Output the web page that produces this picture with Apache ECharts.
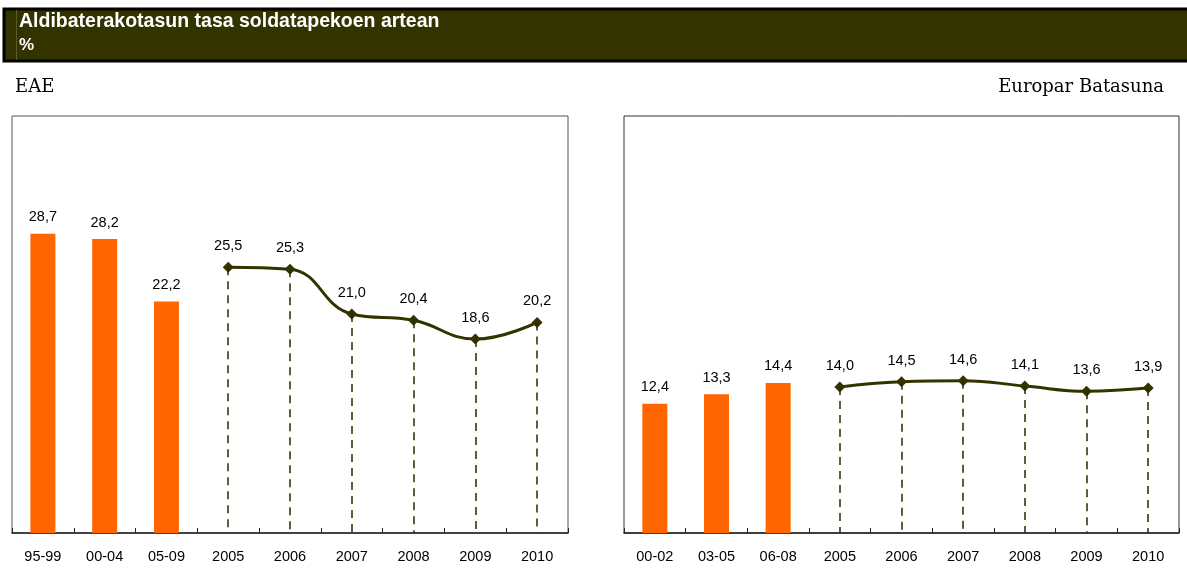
<!DOCTYPE html>
<html>
<head>
<meta charset="utf-8">
<script src="https://cdn.jsdelivr.net/npm/echarts@6/dist/echarts.min.js"></script>
<style>
  html, body { margin: 0; padding: 0; background: #fff; }
  #chart { width: 1187px; height: 586px; }
</style>
</head>
<body>
<div id="chart"></div>
<script>
var eaeCats = ['95-99', '00-04', '05-09', '2005', '2006', '2007', '2008', '2009', '2010'];
var eaeBars = [28.7, 28.2, 22.2];
var eaeLine = [25.5, 25.3, 21.0, 20.4, 18.6, 20.2];

var ueCats = ['00-02', '03-05', '06-08', '2005', '2006', '2007', '2008', '2009', '2010'];
var ueBars = [12.4, 13.3, 14.4];
var ueLine = [14.0, 14.5, 14.6, 14.1, 13.6, 13.9];

var olive = '#333300';
var orange = '#ff6600';

function fmt(p) {
	return p.value == null ? '' : p.value.toFixed(1).replace('.', ',');
}

// barras al principio, linea despues
function barData(bars, n) {
	var d = bars.slice();
	while (d.length < n) d.push(null);
	return d;
}
function lineData(line, n) {
	var d = [];
	while (d.length + line.length < n) d.push(null);
	return d.concat(line);
}
// lineas verticales discontinuas desde cada punto
function dropLines(cats, line) {
	var off = cats.length - line.length;
	return line.map(function(v, i) {
		return [{ coord: [cats[off + i], v] }, { coord: [cats[off + i], 0] }];
	});
}

function makeSeries(cats, bars, line, idx) {
	return [{
		type: 'bar',
		xAxisIndex: idx,
		yAxisIndex: idx,
		data: barData(bars, cats.length),
		barWidth: 25,
		itemStyle: { color: orange },
		label: { show: true, position: 'top', distance: 9, formatter: fmt,
			fontFamily: 'Liberation Sans, Arial', fontSize: 14.5, color: '#000' },
		silent: true
	}, {
		type: 'line',
		xAxisIndex: idx,
		yAxisIndex: idx,
		data: lineData(line, cats.length),
		smooth: 0.45,
		symbol: 'diamond',
		symbolSize: 11,
		lineStyle: { color: olive, width: 3 },
		itemStyle: { color: olive },
		label: { show: true, position: 'top', distance: 8, formatter: fmt,
			fontFamily: 'Liberation Sans, Arial', fontSize: 14.5, color: '#000' },
		markLine: {
			silent: true,
			symbol: 'none',
			label: { show: false },
			lineStyle: { color: '#2a2a00', width: 1.5, type: [8, 6] },
			data: dropLines(cats, line)
		},
		z: 3
	}];
}

function xAxis(cats, idx) {
	return {
		type: 'category',
		gridIndex: idx,
		data: cats,
		axisLine: { lineStyle: { color: '#222', width: 1.5 } },
		axisTick: { show: true, inside: true, length: 5, lineStyle: { color: '#222' } },
		axisLabel: { margin: 16, fontFamily: 'Liberation Sans, Arial', fontSize: 14.5, color: '#000' }
	};
}
function yAxis(idx) {
	return {
		type: 'value',
		gridIndex: idx,
		min: 0,
		max: 40,
		show: false,
		splitLine: { show: false }
	};
}

var myChart = echarts.init(document.getElementById('chart'));
var option = {
	animation: false,
	grid: [
		{ left: 12, top: 116, width: 556, height: 417, show: true, borderColor: '#555', borderWidth: 1, backgroundColor: '#fff' },
		{ left: 624, top: 116, width: 555, height: 417, show: true, borderColor: '#333', borderWidth: 1, backgroundColor: '#fff' }
	],
	xAxis: [xAxis(eaeCats, 0), xAxis(ueCats, 1)],
	yAxis: [yAxis(0), yAxis(1)],
	series: makeSeries(eaeCats, eaeBars, eaeLine, 0).concat(makeSeries(ueCats, ueBars, ueLine, 1)),
	graphic: [
		{ type: 'rect', shape: { x: 4, y: 9, width: 1190, height: 52 },
			style: { fill: olive, stroke: '#000', lineWidth: 3 } },
		{ type: 'rect', shape: { x: 16, y: 10, width: 1, height: 50 }, style: { fill: '#5a5a2a' } },
		{ type: 'text', left: 19, top: 12,
			style: { text: 'Aldibaterakotasun tasa soldatapekoen artean', fill: '#fff',
				font: 'bold 19.5px "Liberation Sans", Arial' } },
		{ type: 'text', left: 19, top: 37,
			style: { text: '%', fill: '#fff', font: 'bold 17px "Liberation Sans", Arial' } },
		{ type: 'text', left: 15, top: 78,
			style: { text: 'EAE', fill: '#000', font: '18px "DejaVu Serif", serif' } },
		{ type: 'text', right: 23, top: 78,
			style: { text: 'Europar Batasuna', fill: '#000', font: '18px "DejaVu Serif", serif' } }
	]
};
myChart.setOption(option);
</script>
</body>
</html>
